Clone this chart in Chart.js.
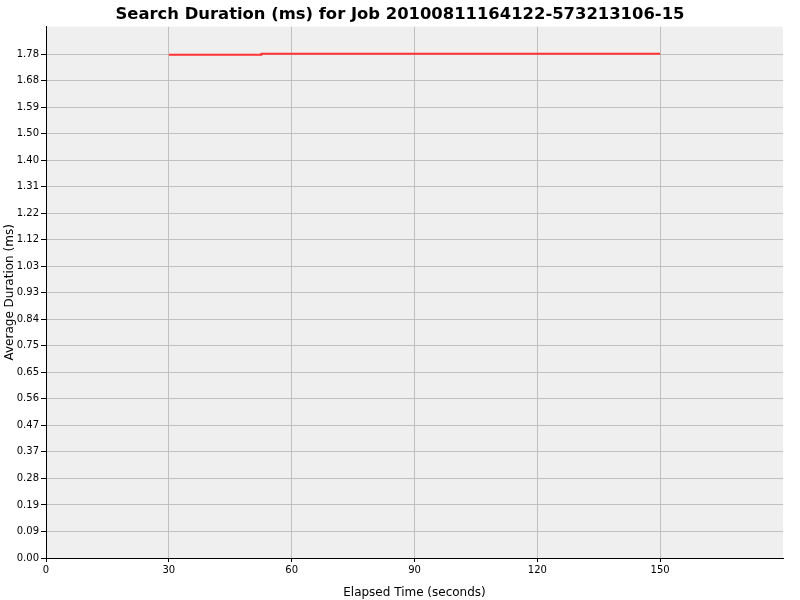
<!DOCTYPE html>
<html>
<head>
<meta charset="utf-8">
<script src="https://cdn.jsdelivr.net/npm/chart.js@4"></script>
<style>
  body { margin:0; background:#fff; }
  #wrap { width:800px; height:600px; }
</style>
</head>
<body>
<div id="wrap"><canvas id="c" width="800" height="600"></canvas></div>
<script>
const elapsed  = [30, 52.6, 52.6, 150];
const duration = [1.774, 1.774, 1.778, 1.778];
const xTicks = [0, 30, 60, 90, 120, 150];
const yTicks = [0, 0.0935, 0.187, 0.2805, 0.374, 0.4675, 0.561, 0.6545, 0.748, 0.8415,
                0.935, 1.0285, 1.122, 1.2155, 1.309, 1.4025, 1.496, 1.5895, 1.683, 1.7765];
const yLabels = ["0.00", "0.09", "0.19", "0.28", "0.37", "0.47", "0.56", "0.65", "0.75", "0.84",
                 "0.93", "1.03", "1.12", "1.22", "1.31", "1.40", "1.50", "1.59", "1.68", "1.78"];

const plotBg = {
  id: "plotBg",
  afterLayout(chart) {
    // centre the title on the whole canvas, not on the padded box
    if (chart.titleBlock) { chart.titleBlock.left = 0; chart.titleBlock.right = chart.width; }
  },
  beforeDraw(chart) {
    const a = chart.chartArea, ctx = chart.ctx;
    ctx.save();
    ctx.fillStyle = "#efefef";
    ctx.fillRect(a.left, a.top, a.right - a.left, a.bottom - a.top);
    ctx.restore();
  }
};

new Chart(document.getElementById("c").getContext("2d"), {
  type: "line",
  data: {
    datasets: [{
      data: elapsed.map((x, i) => ({ x, y: duration[i] })),
      borderColor: "#ff3333",
      borderWidth: 2,
      pointRadius: 0,
      tension: 0,
      fill: false
    }]
  },
  options: {
    responsive: false,
    animation: false,
    layout: { padding: { left: 3, right: 17, top: 0, bottom: 0 } },
    plugins: {
      legend: { display: false },
      tooltip: { enabled: false },
      title: {
        display: true,
        text: "Search Duration (ms) for Job 20100811164122-573213106-15",
        color: "#000",
        font: { family: "DejaVu Sans", size: 16.4, weight: "bold" },
        padding: { top: 5, bottom: 2 }
      }
    },
    scales: {
      x: {
        type: "linear",
        min: 0, max: 180,
        afterBuildTicks: s => { s.ticks = xTicks.map(v => ({ value: v })); },
        afterFit: s => { s.height = 42; },
        ticks: { color: "#000", font: { family: "DejaVu Sans", size: 10 }, padding: 2, maxRotation: 0,
                 callback: v => String(v) },
        grid: { color: "#c0c0c0", lineWidth: 1, tickLength: 4, tickColor: "#000" },
        border: { color: "#000", width: 1 },
        title: { display: true, text: "Elapsed Time (seconds)", color: "#000",
                 font: { family: "DejaVu Sans", size: 12 }, padding: { top: 3, bottom: 0 } }
      },
      y: {
        type: "linear",
        min: 0, max: 1.873,
        afterBuildTicks: s => { s.ticks = yTicks.map(v => ({ value: v })); },
        afterFit: s => { s.width = 43; },
        ticks: { color: "#000", font: { family: "DejaVu Sans", size: 10 }, padding: 2,
                 callback: (v, i) => yLabels[i] },
        grid: { color: "#c0c0c0", lineWidth: 1, tickLength: 5, tickColor: "#000" },
        border: { color: "#000", width: 1 },
        title: { display: true, text: "Average Duration (ms)", color: "#000",
                 font: { family: "DejaVu Sans", size: 12 }, padding: { top: 0, bottom: 0 } }
      }
    }
  },
  plugins: [plotBg]
});
</script>
</body>
</html>
